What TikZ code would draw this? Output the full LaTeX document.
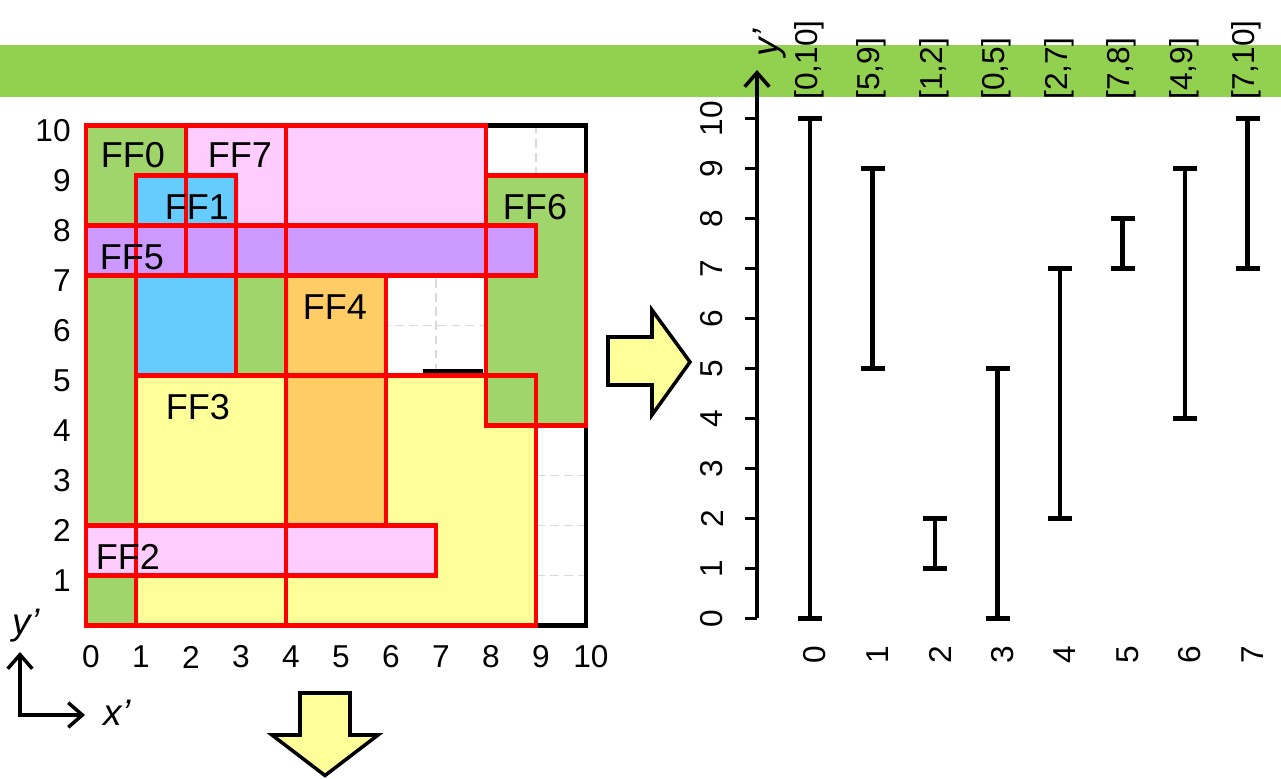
\documentclass[tikz,border=0pt]{standalone}
\usepackage{fontspec}
\setmainfont{Liberation Sans}
\usepackage{xcolor}
\usepackage{tikz}
\usetikzlibrary{arrows.meta,positioning}

\definecolor{ffgreen}{RGB}{160,213,108}
\definecolor{ffblue}{RGB}{102,204,255}
\definecolor{ffpink}{RGB}{255,204,255}
\definecolor{ffpurple}{RGB}{204,153,255}
\definecolor{fforange}{RGB}{255,204,102}
\definecolor{ffyellow}{RGB}{255,255,153}
\definecolor{bandgreen}{RGB}{146,208,80}
\definecolor{gridgray}{RGB}{217,217,217}

\begin{document}
\begin{tikzpicture}[
  ticklabel/.style={font=\fontsize{18}{18}\selectfont, inner sep=0pt},
  varlabel/.style={font=\fontsize{21}{21}\selectfont\itshape, inner sep=0pt},
  fflabel/.style={font=\fontsize{20.5}{20}\selectfont, inner sep=0pt},
  ffbox/.style={draw=red, line width=2.3pt},
  gridline/.style={gridgray, line width=0.8pt, dash pattern=on 5pt off 3pt},
  interval/.style={line width=2.3pt},
  blockarrow/.style={draw=black, line width=2pt, fill=ffyellow, line join=miter},
  axisline/.style={line width=2pt},
  >={Straight Barb[length=8pt,width=14pt]}
]
  \useasboundingbox (-1.72,-3.07) rectangle (23.9,12.51);

  % Green band behind the interval labels
  \fill[bandgreen] (-1.72,10.57) rectangle (23.9,11.61);

  % Left: placement grid
  \draw[gridline] (0,0) grid (10,10);
  \draw[line width=2.3pt] (0,0) rectangle (10,10);

  % Fills, back to front
  \fill[ffgreen]  (0,0) rectangle (4,10);   % FF0
  \fill[ffpink]   (2,7) rectangle (8,10);   % FF7
  \fill[ffblue]   (1,5) rectangle (3,9);    % FF1
  \fill[ffyellow] (1,0) rectangle (9,5);    % FF3
  \fill[fforange] (4,2) rectangle (6,7);    % FF4
  \fill[ffpink]   (0,1) rectangle (7,2);    % FF2
  \fill[ffgreen]  (8,4) rectangle (10,9);   % FF6
  \fill[ffpurple] (0,7) rectangle (9,8);    % FF5
  \draw[line width=2.4pt] (6.74,5.09) -- (7.94,5.09);

  % Red outlines on top
  \draw[ffbox] (0,0) rectangle (4,10);
  \draw[ffbox] (2,7) rectangle (8,10);
  \draw[ffbox] (1,5) rectangle (3,9);
  \draw[ffbox] (1,0) rectangle (9,5);
  \draw[ffbox] (4,2) rectangle (6,7);
  \draw[ffbox] (0,1) rectangle (7,2);
  \draw[ffbox] (8,4) rectangle (10,9);
  \draw[ffbox] (0,7) rectangle (9,8);

  % Cell names
  \node[fflabel] (ff0) at (0.94,9.41) {FF0};
  \node[fflabel] (ff7) at (3.08,9.41) {FF7};
  \node[fflabel] (ff1) at (2.22,8.37) {FF1};
  \node[fflabel] (ff5) at (0.92,7.37) {FF5};
  \node[fflabel] (ff4) at (4.98,6.37) {FF4};
  \node[fflabel] (ff6) at (8.98,8.37) {FF6};
  \node[fflabel] (ff3) at (2.24,4.37) {FF3};
  \node[fflabel] (ff2) at (0.84,1.37) {FF2};

  % Axis numbers
  \foreach \v in {1,...,10}
    \node[ticklabel, anchor=east] (yl\v) at (-0.3,\v-0.1) {\v};
  \foreach \v in {0,...,10}
    \node[ticklabel] (xl\v) at (\v+0.1,-0.63) {\v};
  \node[varlabel] (ylab) at (-1.2,0.0) {y'};

  % Small coordinate cross
  \coordinate (corner) at (-1.32,-1.79);
  \coordinate (ytip) at (-1.32,-0.53);
  \coordinate (xtip) at (-0.02,-1.79);
  \draw[axisline, <->] (ytip) |- (xtip);
  \node[varlabel] (xlab) at (0.62,-1.75) {x'};

  % Block arrows
  \draw[blockarrow] (10.44,5.77) -- (11.32,5.77) -- (11.32,6.31) -- (12.08,5.27)
    -- (11.32,4.21) -- (11.32,4.81) -- (10.44,4.81) -- cycle;
  \draw[blockarrow] (4.28,-1.35) -- (5.28,-1.35) -- (5.28,-2.19) -- (5.84,-2.19)
    -- (4.78,-3.0) -- (3.72,-2.19) -- (4.28,-2.19) -- cycle;

  % Right: y' intervals
  \coordinate (ax0) at (13.42,0.14);
  \coordinate (axtip) at (13.42,11.11);
  \draw[axisline, ->] (ax0) -- (axtip);
  \node[varlabel, rotate=90] (axlab) at (13.68,11.65) {y'};
  \foreach \v in {0,...,10} {
    \draw[axisline] (13.18,0.14+\v) -- (13.42,0.14+\v);
    \node[ticklabel, rotate=90] (t\v) at (12.52,0.14+\v) {\v};
  }
  \foreach \i/\lo/\hi in {0/0/10,1/5/9,2/1/2,3/0/5,4/2/7,5/7/8,6/4/9,7/7/10} {
    \draw[interval] (14.24+1.25*\i,0.14+\lo) -- (14.72+1.25*\i,0.14+\lo)
      (14.48+1.25*\i,0.14+\lo) -- (14.48+1.25*\i,0.14+\hi)
      (14.24+1.25*\i,0.14+\hi) -- (14.72+1.25*\i,0.14+\hi);
    \node[ticklabel, rotate=90] (n\i) at (14.58+1.25*\i,-0.59) {\i};
    \node[ticklabel, rotate=90, anchor=west] (r\i) at (14.46+1.25*\i,10.51) {[\lo,\hi]};
  }
\end{tikzpicture}
\end{document}
